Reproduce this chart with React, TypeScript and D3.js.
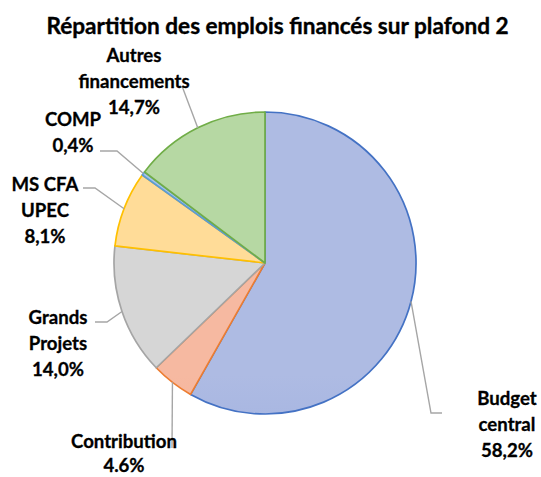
import React from "react";
import * as d3 from "d3";

const categories = ["Budget central", "Contribution", "Grands Projets", "MS CFA UPEC", "COMP", "Autres financements"];
const values = [58.2, 4.6, 14.0, 8.1, 0.4, 14.7];
const valueLabels = ["58,2%", "4.6%", "14,0%", "8,1%", "0,4%", "14,7%"];
const labelLines = [["Budget", "central"], ["Contribution"], ["Grands", "Projets"], ["MS CFA", "UPEC"], ["COMP"], ["Autres", "financements"]];
const strokeColors = ["#4472C4", "#ED7D31", "#A5A5A5", "#FFC000", "#5B9BD5", "#70AD47"];
const topColors = ["#aebbe3", "#f6b9a1", "#d6d6d6", "#ffdc98", "#a6c4e6", "#b6d8a3"];
const bottomColors = ["#889ed8", "#f2a587", "#c7c7c7", "#ffd27c", "#8ab3dd", "#9fcb86"];

// label layout: [anchor x, first baseline y, line spacing], elbow points for leader lines
const labelPos: [number, number, number][] = [[507, 405, 26], [124, 448, 24], [58, 324, 26], [45, 191, 26], [73, 126, 26], [134, 62, 26]];
const elbows: [number, number][][] = [
  [[431, 413], [442, 413]],
  [[172, 448]],
  [[107, 322], [95, 322]],
  [[95, 188], [83, 188]],
  [[117, 151], [100, 151]],
  [[182, 86]],
];

const W = 541, H = 477;
const cx = 265, cy = 263, R = 151;

export default function App() {
  const pie = d3.pie<number>().sort(null).value((d) => d)(values);
  const arc = d3.arc<d3.PieArcDatum<number>>().innerRadius(0).outerRadius(R);
  const font = "Lato, 'Open Sans', sans-serif";
  return (
    <svg width={W} height={H} style={{ position: "absolute", left: 0, top: 0, background: "#fff" }}>
      <defs>
        {values.map((_, i) => (
          <linearGradient key={i} id={`g${i}`} x1="0" y1="0" x2="0" y2="1" gradientUnits="userSpaceOnUse"
            gradientTransform={`translate(0,${cy - R}) scale(1,${2 * R})`}>
            <stop offset="0" stopColor={topColors[i]} />
            <stop offset="1" stopColor={bottomColors[i]} />
          </linearGradient>
        ))}
      </defs>
      <text x={277.5} y={34} textAnchor="middle" fontFamily={font} fontWeight={700} fontSize={22.6} fill="#000"
        stroke="#000" strokeWidth={0.35}>
        Répartition des emplois financés sur plafond 2
      </text>
      <g transform={`translate(${cx},${cy})`}>
        {pie.map((p, i) => (
          <path key={i} d={arc(p) || ""} fill={`url(#g${i})`} stroke={strokeColors[i]} strokeWidth={1.7} strokeLinejoin="round" />
        ))}
      </g>
      {pie.map((p, i) => {
        const a = (p.startAngle + p.endAngle) / 2;
        const sx = cx + R * Math.sin(a);
        const sy = cy - R * Math.cos(a);
        const pts = [[sx, sy], ...elbows[i]];
        return (
          <polyline key={i} points={pts.map((q) => q.join(",")).join(" ")} fill="none" stroke="#a6a6a6" strokeWidth={1.4} />
        );
      })}
      {categories.map((c, i) => {
        const lines = [...labelLines[i], valueLabels[i]];
        const [lx, ly, lh] = labelPos[i];
        return (
          <text key={c} x={lx} y={ly} textAnchor="middle" fontFamily={font} fontWeight={700} fontSize={18.6} fill="#000"
            stroke="#000" strokeWidth={0.3}>
            {lines.map((t, j) => (
              <tspan key={j} x={lx} y={ly + j * lh}>{t}</tspan>
            ))}
          </text>
        );
      })}
    </svg>
  );
}
